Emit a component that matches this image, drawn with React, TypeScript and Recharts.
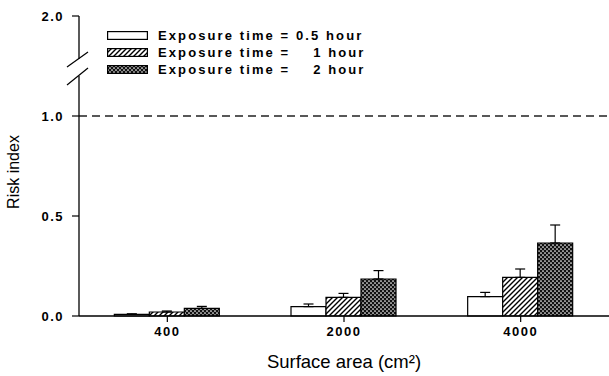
import React from 'react';
import { BarChart, Bar, XAxis, YAxis, ErrorBar, ReferenceLine, Label } from 'recharts';

const categories = ['400', '2000', '4000'];
const mean05 = [0.008, 0.047, 0.097];
const err05 = [0.003, 0.013, 0.021];
const mean1 = [0.02, 0.093, 0.193];
const err1 = [0.005, 0.02, 0.042];
const mean2 = [0.038, 0.185, 0.365];
const err2 = [0.01, 0.042, 0.09];
const yTicks = [0, 0.5, 1.0, 1.5];
const yTickLabels = ['0.0', '0.5', '1.0', '2.0'];
const seriesNames = ['Exposure time = 0.5 hour', 'Exposure time =    1 hour', 'Exposure time =    2 hour'];
const seriesFills = ['#ffffff', 'url(#hatchPat)', 'url(#dotPat)'];

const data = categories.map((c, i) => ({
  cat: c,
  m05: mean05[i], e05: [0, err05[i]],
  m1: mean1[i], e1: [0, err1[i]],
  m2: mean2[i], e2: [0, err2[i]],
}));

const W = 609;
const H = 376;
const M = { top: 16, right: 0, left: 0, bottom: 8 };
const Y_W = 79;
const X_H = 52;
const Y_MAX = 1.5;
const plotTop = M.top;
const plotH = H - M.top - M.bottom - X_H;
const toPx = (v: number) => plotTop + (1 - v / Y_MAX) * plotH;
const FONT = '"Liberation Sans", Arial, Helvetica, sans-serif';

const Patterns = () => (
  <defs>
    <pattern id="hatchPat" patternUnits="userSpaceOnUse" width="5" height="5">
      <rect width="5" height="5" fill="#fff" />
      <path d="M-1,1 l2,-2 M0,5 l5,-5 M4,6 l2,-2" stroke="#000" strokeWidth="1.4" />
    </pattern>
    <pattern id="dotPat" patternUnits="userSpaceOnUse" width="4" height="4">
      <rect width="4" height="4" fill="#111" />
      <circle cx="1" cy="1" r="0.85" fill="#fff" />
      <circle cx="3" cy="3" r="0.85" fill="#fff" />
    </pattern>
  </defs>
);

const LegendBox = () => (
  <div style={{ position: 'absolute', left: 107, top: 27, fontFamily: FONT }}>
    {seriesNames.map((n, i) => (
      <div key={n} style={{ display: 'flex', alignItems: 'center', height: 17 }}>
        <svg width={41} height={9} style={{ marginRight: 10 }}>
          <rect x={0.6} y={0.6} width={39.8} height={7.8} fill={seriesFills[i]} stroke="#000" strokeWidth={1.2} />
        </svg>
        <span style={{ fontSize: 13, fontWeight: 'bold', letterSpacing: 2.1, whiteSpace: 'pre', color: '#000', lineHeight: '17px' }}>{n}</span>
      </div>
    ))}
  </div>
);

const YLabel = (props: any) => {
  const vb = props.viewBox || { x: 0, y: 0, width: 0, height: 0 };
  const cx = vb.x + 13;
  const cy = toPx(0.72);
  return (
    <text x={cx} y={cy} transform={`rotate(-90 ${cx} ${cy})`} textAnchor="middle" dominantBaseline="central" fontFamily={FONT} fontSize={16} fill="#000">
      Risk index
    </text>
  );
};

const gapTop = toPx(1.285);
const gapBot = toPx(1.2);
const axisX = M.left + Y_W;

export default function App() {
  return (
    <div style={{ position: 'absolute', left: 0, top: 0, width: W, height: H, background: '#fff' }}>
      <BarChart width={W} height={H} data={data} margin={M} barCategoryGap="20%" barGap={0}>
        <Patterns />
        <XAxis
          dataKey="cat"
          height={X_H}
          tickSize={6}
          tickMargin={5}
          axisLine={{ stroke: '#000', strokeWidth: 1.3 }}
          tickLine={{ stroke: '#000', strokeWidth: 1.2 }}
          tick={{ fontSize: 13, fontWeight: 'bold', fill: '#000', fontFamily: FONT, letterSpacing: 1.5 }}
        >
          <Label value="Surface area (cm²)" position="insideBottom" offset={0} style={{ fontSize: 18.5, fill: '#000', fontFamily: FONT }} />
        </XAxis>
        <YAxis
          width={Y_W}
          domain={[0, Y_MAX]}
          ticks={yTicks}
          tickFormatter={(v: number) => yTickLabels[yTicks.indexOf(v)]}
          tickSize={7}
          tickMargin={8}
          axisLine={{ stroke: '#000', strokeWidth: 1.3 }}
          tickLine={{ stroke: '#000', strokeWidth: 1.2 }}
          tick={{ fontSize: 13, fontWeight: 'bold', fill: '#000', fontFamily: FONT, letterSpacing: 1.5 }}
          label={<YLabel />}
        />
        <ReferenceLine y={1} stroke="#222" strokeWidth={1.3} strokeDasharray="8 5" />
        <Bar dataKey="m05" fill={seriesFills[0]} stroke="#000" strokeWidth={1.2} isAnimationActive={false}>
          <ErrorBar dataKey="e05" width={5} stroke="#000" strokeWidth={1.2} direction="y" isAnimationActive={false} />
        </Bar>
        <Bar dataKey="m1" fill={seriesFills[1]} stroke="#000" strokeWidth={1.2} isAnimationActive={false}>
          <ErrorBar dataKey="e1" width={5} stroke="#000" strokeWidth={1.2} direction="y" isAnimationActive={false} />
        </Bar>
        <Bar dataKey="m2" fill={seriesFills[2]} stroke="#000" strokeWidth={1.2} isAnimationActive={false}>
          <ErrorBar dataKey="e2" width={5} stroke="#000" strokeWidth={1.2} direction="y" isAnimationActive={false} />
        </Bar>
      </BarChart>
      <LegendBox />
      <svg width={W} height={H} style={{ position: 'absolute', left: 0, top: 0, pointerEvents: 'none' }}>
        <rect x={axisX - 3} y={gapTop} width={6} height={gapBot - gapTop} fill="#fff" />
        <line x1={axisX - 12} y1={gapTop + 8} x2={axisX + 9} y2={gapTop - 7} stroke="#000" strokeWidth={1.2} />
        <line x1={axisX - 12} y1={gapBot + 9} x2={axisX + 9} y2={gapBot - 8} stroke="#000" strokeWidth={1.2} />
      </svg>
    </div>
  );
}
